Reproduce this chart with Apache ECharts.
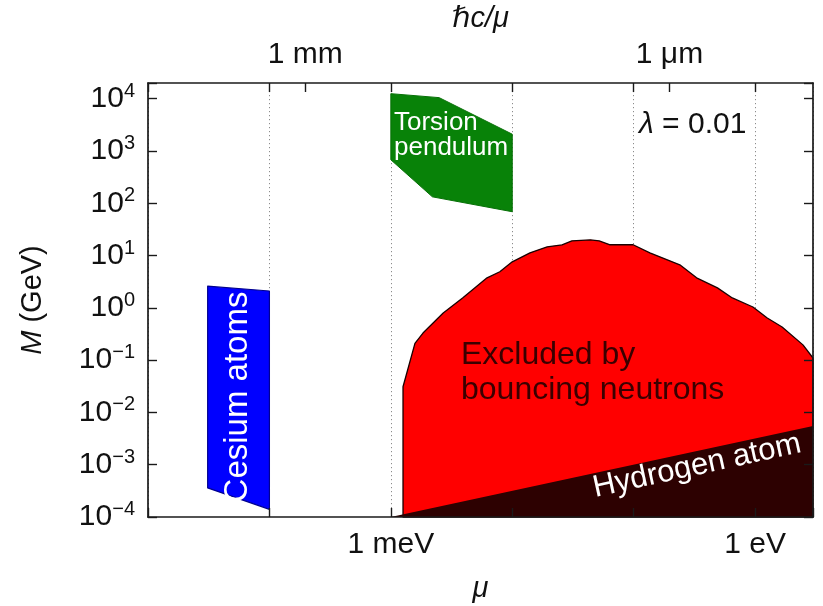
<!DOCTYPE html>
<html>
<head>
<meta charset="utf-8">
<script src="https://cdn.jsdelivr.net/npm/echarts@6/dist/echarts.min.js"></script>
<style>
  html, body { margin: 0; padding: 0; background: #ffffff; }
  #chart { width: 823px; height: 606px; }
</style>
</head>
<body>
<div id="chart"></div>
<script>
// Axis ranges: mu in eV (bottom), M in GeV (left)
const muRange = [1e-5, 3];
const massRange = [1e-4, 2e4];

// Energy labels on the bottom axis
const bottomLabelValues = [1e-3, 1];
const bottomLabelTexts = ['1 meV', '1 eV'];

// Length scale hbar*c/mu on the top axis (hbar*c = 1.9733e-7 eV m)
const topLabelValues = [1.9733e-4, 0.19733];
const topLabelTexts = ['1 mm', '1 \u03bcm'];

// Decades of mu that carry ticks on the top axis as well
const muDecades = [1e-5, 1e-4, 1e-3, 1e-2, 1e-1, 1];

// Excluded regions, vertices as [mu (eV), M (GeV)]
const cesiumAtoms = [
  [3.1e-5, 2.6], [1e-4, 2.1], [1e-4, 1.4e-4], [3.1e-5, 3.6e-4]
];
const torsionPendulum = [
  [1e-3, 1.25e4], [2.5e-3, 1.05e4], [1e-2, 2.1e3], [1e-2, 69], [2.2e-3, 133], [1e-3, 680]
];
const bouncingNeutrons = [
  [1.26e-3, 1e-4], [1.26e-3, 0.031], [1.58e-3, 0.21], [1.84e-3, 0.33], [2.7e-3, 0.8],
  [3.9e-3, 1.55], [6.2e-3, 3.75], [7.9e-3, 4.9], [1.0e-2, 7.6], [1.4e-2, 11.3],
  [1.94e-2, 14.7], [2.57e-2, 16.1], [3.1e-2, 19.2], [4.4e-2, 20], [5.2e-2, 19.2],
  [6.4e-2, 16.1], [9.9e-2, 16.1], [0.136, 11.3], [0.24, 6.65], [0.33, 3.75],
  [0.49, 2.41], [0.65, 1.55], [0.96, 1.04], [1.26, 0.64], [1.67, 0.43],
  [2.48, 0.196], [3, 0.11], [3, 1e-4]
];
const hydrogenAtom = [
  [1e-3, 1e-4], [3, 5.5e-3], [3, 1e-4]
];

const FONT = "'Liberation Sans', Arial, Helvetica, 'DejaVu Sans', sans-serif";
const INK = '#111111';
const FRAME = '#1a1a1a';

function lookupLabel(values, texts, v) {
  for (let i = 0; i < values.length; i++) {
    if (Math.abs(Math.log10(v) - Math.log10(values[i])) < 1e-3) return texts[i];
  }
  return '';
}

function powerLabel(v) {
  const e = Math.log10(v);
  const n = Math.round(e);
  if (Math.abs(e - n) > 1e-6) return '';
  return '{b|10}{s|' + (n < 0 ? '\u2212' + (-n) : String(n)) + '}';
}

function polygonSeries(name, vertices, style, z) {
  return {
    type: 'custom',
    name: name,
    coordinateSystem: 'cartesian2d',
    xAxisIndex: 0,
    yAxisIndex: 0,
    data: vertices,
    encode: { x: 0, y: 1 },
    z: z,
    silent: true,
    animation: false,
    renderItem: function (params, api) {
      if (params.dataIndex !== 0) return null;
      const pts = vertices.map(function (v) { return api.coord(v); });
      return { type: 'polygon', shape: { points: pts }, style: style };
    }
  };
}

const frameLine = { show: true, onZero: false, lineStyle: { color: FRAME, width: 1.7 } };
const innerTick = { show: true, inside: true, length: 9, lineStyle: { color: FRAME, width: 1.4 } };

const chart = echarts.init(document.getElementById('chart'), null, { renderer: 'canvas' });

chart.setOption({
  animation: false,
  backgroundColor: '#ffffff',
  grid: { left: 148, right: 10, top: 83, bottom: 89, containLabel: false, outerBoundsMode: 'none' },
  xAxis: [
    {
      type: 'log', logBase: 10, min: muRange[0], max: muRange[1], position: 'bottom', z: 5,
      name: '{i|\u03bc}', nameLocation: 'middle', nameGap: 57,
      nameTextStyle: { rich: { i: { fontFamily: FONT, fontStyle: 'italic', fontSize: 29, color: INK } } },
      axisLine: frameLine,
      axisTick: innerTick,
      axisLabel: {
        customValues: bottomLabelValues, margin: 13, fontFamily: FONT, fontSize: 30, color: INK,
        formatter: function (v) { return lookupLabel(bottomLabelValues, bottomLabelTexts, v); }
      },
      splitLine: { show: false },
      minorTick: { show: false }
    },
    {
      type: 'log', logBase: 10, min: muRange[0], max: muRange[1], position: 'top', z: 5,
      name: '{i|\u210fc/\u03bc}', nameLocation: 'middle', nameGap: 50,
      nameTextStyle: { rich: { i: { fontFamily: FONT, fontStyle: 'italic', fontSize: 29, color: INK } } },
      axisLine: frameLine,
      axisTick: Object.assign({}, innerTick, { customValues: muDecades.concat(topLabelValues) }),
      axisLabel: {
        customValues: topLabelValues, margin: 13, fontFamily: FONT, fontSize: 30, color: INK,
        formatter: function (v) { return lookupLabel(topLabelValues, topLabelTexts, v); }
      },
      splitLine: { show: false }
    },
    {
      // dotted decade guides behind the regions
      type: 'log', logBase: 10, min: muRange[0], max: muRange[1], position: 'bottom', z: 0,
      axisLine: { show: false }, axisTick: { show: false }, axisLabel: { show: false },
      splitLine: { show: true, lineStyle: { color: '#8c8c8c', width: 1, type: [1.2, 2.8] } }
    }
  ],
  yAxis: [
    {
      type: 'log', logBase: 10, min: massRange[0], max: massRange[1], position: 'left', z: 5,
      name: '{i|M}{n| (GeV)}', nameLocation: 'middle', nameGap: 101, nameRotate: 90,
      nameTextStyle: {
        rich: {
          i: { fontFamily: FONT, fontStyle: 'italic', fontSize: 29, color: INK },
          n: { fontFamily: FONT, fontSize: 29, color: INK }
        }
      },
      axisLine: frameLine,
      axisTick: innerTick,
      axisLabel: {
        margin: 13, formatter: powerLabel,
        rich: {
          b: { fontFamily: FONT, fontSize: 30, color: INK, lineHeight: 34 },
          s: { fontFamily: FONT, fontSize: 20, color: INK, lineHeight: 20, padding: [0, 0, 15, 0] }
        }
      },
      splitLine: { show: false },
      minorTick: { show: false }
    },
    {
      type: 'log', logBase: 10, min: massRange[0], max: massRange[1], position: 'right', z: 5,
      axisLine: frameLine,
      axisTick: innerTick,
      axisLabel: { show: false },
      splitLine: { show: false }
    }
  ],
  series: [
    polygonSeries('Bouncing neutrons', bouncingNeutrons,
      { fill: '#ff0000', stroke: '#1a0000', lineWidth: 1.3, lineJoin: 'round' }, 2),
    polygonSeries('Hydrogen atom', hydrogenAtom, { fill: '#2d0101' }, 3),
    polygonSeries('Cesium atoms', cesiumAtoms,
      { fill: '#0000ff', stroke: '#000090', lineWidth: 1.2, lineJoin: 'round' }, 3),
    polygonSeries('Torsion pendulum', torsionPendulum,
      { fill: '#088208', stroke: '#067006', lineWidth: 1, lineJoin: 'round' }, 3)
  ],
  graphic: [
    {
      type: 'text', x: 394, y: 110, z: 20, silent: true,
      style: {
        text: 'Torsion\npendulum', fill: '#ffffff', fontFamily: FONT, fontSize: 26,
        lineHeight: 25, align: 'left', verticalAlign: 'top'
      }
    },
    {
      type: 'text', x: 238, y: 397, rotation: Math.PI / 2, z: 20, silent: true,
      style: {
        text: 'Cesium atoms', fill: '#ffffff', fontFamily: FONT, fontSize: 33,
        align: 'center', verticalAlign: 'middle'
      }
    },
    {
      type: 'text', x: 461, y: 338, z: 20, silent: true,
      style: {
        text: 'Excluded by\nbouncing neutrons', fill: '#3a0000', fontFamily: FONT, fontSize: 32,
        lineHeight: 35, align: 'left', verticalAlign: 'top'
      }
    },
    {
      type: 'text', x: 697, y: 466, rotation: 12.3 * Math.PI / 180, z: 20, silent: true,
      style: {
        text: 'Hydrogen atom', fill: '#ffffff', fontFamily: FONT, fontSize: 31,
        align: 'center', verticalAlign: 'middle'
      }
    },
    {
      type: 'text', x: 639, y: 125, z: 20, silent: true,
      style: {
        text: '{i|\u03bb} = 0.01', align: 'left', verticalAlign: 'middle',
        rich: {
          i: { fontFamily: FONT, fontStyle: 'italic', fontSize: 30, fill: INK },
          '': { fontFamily: FONT, fontSize: 30, fill: INK }
        },
        fontFamily: FONT, fontSize: 30, fill: INK
      }
    }
  ]
});
</script>
</body>
</html>
